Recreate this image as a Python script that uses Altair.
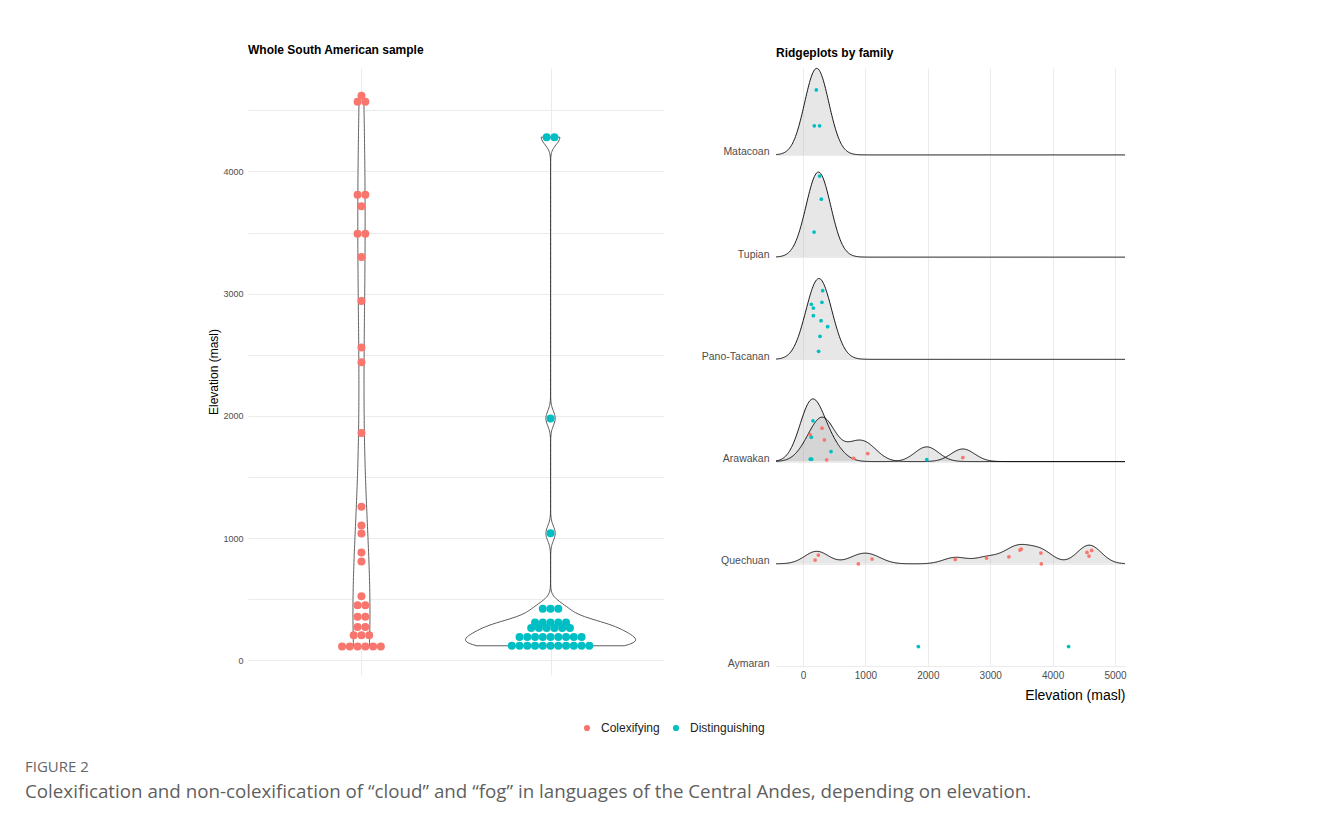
import numpy as np
import pandas as pd
import altair as alt

# ---------------- data ----------------
GROUPS = ["Colexifying", "Distinguishing"]
COLORS = ["#F8766D", "#00BFC4"]

# Whole South American sample (elevation of each dot, masl)
colex_elev = [4620, 4570, 4570, 3810, 3810, 3715, 3490, 3490, 3300, 2940, 2560, 2440,
              1860, 1258, 1104, 1039, 884, 810, 526, 452, 452, 357, 357, 273, 273,
              207, 207, 207, 115, 115, 115, 115, 115, 115]
disting_elev = [4280, 4280, 1980, 1040, 423, 423, 423,
                311, 311, 311, 311, 311,
                265, 265, 265, 265, 265, 265,
                191, 191, 191, 191, 191, 191, 191, 191, 191,
                120, 120, 120, 120, 120, 120, 120, 120, 120, 120, 120]

# Ridgeplots by family (bottom -> top)
FAMILIES = ["Aymaran", "Quechuan", "Arawakan", "Pano-Tacanan", "Tupian", "Matacoan"]

matacoan_elev = [213, 181, 266]
matacoan_jit = [0.636, 0.284, 0.284]
tupian_elev = [266, 294, 177]
tupian_jit = [0.793, 0.567, 0.245]
pano_elev = [315, 133, 303, 166, 166, 289, 395, 273, 250]
pano_jit = [0.671, 0.538, 0.558, 0.502, 0.427, 0.378, 0.319, 0.225, 0.078]
arawakan_dist_elev = [160, 133, 449, 117, 138, 1983]
arawakan_dist_jit = [0.398, 0.238, 0.098, 0.023, 0.023, 0.020]
arawakan_colex_elev = [305, 112, 342, 379, 812, 1037, 2561]
arawakan_colex_jit = [0.326, 0.264, 0.212, 0.017, 0.032, 0.078, 0.039]
quechuan_elev = [193, 245, 887, 1107, 2439, 2941, 3299, 3476, 3498, 3813, 3819, 4551, 4583, 4626]
quechuan_jit = [0.036, 0.085, 0.000, 0.046, 0.042, 0.056, 0.068, 0.134, 0.144, 0.105, 0.000, 0.111, 0.075, 0.130]
aymaran_elev = [1848, 4256]
aymaran_jit = [0.19, 0.19]

CAPTION_LABEL = "FIGURE 2"
CAPTION = ("Colexification and non-colexification of \u201ccloud\u201d and \u201cfog\u201d in languages "
           "of the Central Andes, depending on elevation.")

# ---------------- tables ----------------
left_df = pd.DataFrame({
    "group": ["Colexifying"] * len(colex_elev) + ["Distinguishing"] * len(disting_elev),
    "elev": colex_elev + disting_elev,
})
left_df["cat"] = left_df["group"].map({"Colexifying": 1, "Distinguishing": 2})

rows = []
def add(fam, grp, elevs, jits):
    for e, j in zip(elevs, jits):
        rows.append({"family": fam, "fi": FAMILIES.index(fam), "group": grp, "elev": e, "jit": j})

add("Matacoan", "Distinguishing", matacoan_elev, matacoan_jit)
add("Tupian", "Distinguishing", tupian_elev, tupian_jit)
add("Pano-Tacanan", "Distinguishing", pano_elev, pano_jit)
add("Arawakan", "Distinguishing", arawakan_dist_elev, arawakan_dist_jit)
add("Arawakan", "Colexifying", arawakan_colex_elev, arawakan_colex_jit)
add("Quechuan", "Colexifying", quechuan_elev, quechuan_jit)
add("Aymaran", "Distinguishing", aymaran_elev, aymaran_jit)
ridge_df = pd.DataFrame(rows)

# ---------------- styling ----------------
FONT = "Liberation Sans"
GRID = "#EBEBEB"
AXIS_TXT = "#4D4D4D"
BW_COLEX, BW_DIST, BW_RIDGE = 690, 60, 190
RIDGE_K = 410  # ridge height per unit density (in row units)

# violin width normalisation (ggplot scale="area": widest violin = 0.9 of a category)
d = np.array(disting_elev, float)
g = np.linspace(d.min(), d.max(), 3000)
dens = np.exp(-0.5 * ((g[:, None] - d[None, :]) / BW_DIST) ** 2).sum(1) / (len(d) * BW_DIST * np.sqrt(2 * np.pi))
S = 0.45 / dens.max()

legend = alt.Legend(orient="none", legendX=556, legendY=654, direction="horizontal", title=None,
                    symbolType="circle", symbolSize=38, labelFontSize=12, labelFont=FONT,
                    labelColor="#222222", labelOffset=8, columnPadding=10, symbolStrokeWidth=0)
color = alt.Color("group:N", scale=alt.Scale(domain=GROUPS, range=COLORS), legend=legend)

# ---------------- left panel ----------------
lx = alt.Scale(domain=[0.4, 2.6], nice=False, zero=False)
ly = alt.Scale(domain=[-119, 4846], nice=False, zero=False)
lx_axis = alt.Axis(values=[1, 2], labels=False, ticks=False, domain=False, title=None,
                   grid=True, gridColor=GRID, gridWidth=1)
ly_axis = alt.Axis(values=list(range(0, 5000, 500)), format="d",
                   labelExpr="datum.value % 1000 == 0 ? datum.label : ''",
                   ticks=False, domain=False, grid=True, gridColor=GRID, gridWidth=1,
                   labelFontSize=9, labelColor=AXIS_TXT, labelPadding=5,
                   title="Elevation (masl)", titleFontSize=12, titleFontWeight="normal",
                   titleColor="#000000", titlePadding=6, minExtent=22, maxExtent=22)

def violin(grp, cat, bw, lo, hi):
    return alt.Chart(left_df).transform_filter(alt.datum.group == grp).transform_density(
        "elev", as_=["elev", "density"], bandwidth=bw, extent=[lo, hi], steps=400
    ).transform_calculate(
        xl=f"{cat} - datum.density * {S}", xr=f"{cat} + datum.density * {S}"
    ).mark_area(orient="horizontal", fill="white", stroke="#333333", strokeWidth=0.8).encode(
        y=alt.Y("elev:Q", scale=ly, axis=ly_axis),
        x=alt.X("xl:Q", scale=lx, axis=lx_axis),
        x2="xr:Q",
    )

v1 = violin("Colexifying", 1, BW_COLEX, min(colex_elev), max(colex_elev))
v2 = violin("Distinguishing", 2, BW_DIST, min(disting_elev), max(disting_elev))

dots = alt.Chart(left_df).transform_window(
    rank="row_number()", groupby=["group", "elev"]
).transform_joinaggregate(
    n="count()", groupby=["group", "elev"]
).transform_calculate(
    xd="datum.cat + (datum.rank - (datum.n + 1) / 2) * 0.041"
).mark_circle(size=64, opacity=1).encode(
    x=alt.X("xd:Q", scale=lx, axis=lx_axis),
    y=alt.Y("elev:Q", scale=ly, axis=ly_axis),
    color=color,
)

left = alt.layer(v1, v2, dots).properties(
    width=416, height=607,
    title=alt.TitleParams("Whole South American sample", anchor="start", frame="group", fontSize=12,
                          fontWeight="bold", font=FONT, color="#000000", offset=11),
)

# ---------------- right panel ----------------
rx = alt.Scale(domain=[-433, 5160], nice=False, zero=False)
ry = alt.Scale(domain=[0, 5.85], nice=False, zero=False)
rx_axis = alt.Axis(values=[0, 1000, 2000, 3000, 4000, 5000], format="d", ticks=False, domain=False,
                   grid=True, gridColor=GRID, gridWidth=1, labelFontSize=10, labelColor=AXIS_TXT,
                   labelPadding=4, title="Elevation (masl)", titleFontSize=14,
                   titleFontWeight="normal", titleColor="#000000", titleAnchor="end", titlePadding=8)
fam_expr = "[" + ",".join(f"'{f}'" for f in FAMILIES) + "][datum.value]"
ry_axis = alt.Axis(values=list(range(len(FAMILIES))), labelExpr=fam_expr, ticks=False, domain=False,
                   grid=True, gridColor=GRID, gridWidth=1, labelFontSize=10.5, labelColor=AXIS_TXT,
                   labelBaseline="alphabetic", labelPadding=7, title=None)

ridges = alt.Chart(ridge_df).transform_filter(alt.datum.family != "Aymaran").transform_density(
    "elev", as_=["elev", "density"], groupby=["fi", "group"], bandwidth=BW_RIDGE,
    extent=[-433, 5160], steps=500
).transform_calculate(
    top=f"datum.fi + datum.density * {RIDGE_K}"
).mark_area(color="#A0A0A0", fillOpacity=0.25,
            line={"color": "#000000", "strokeWidth": 0.9, "opacity": 1}).encode(
    x=alt.X("elev:Q", scale=rx, axis=rx_axis),
    y=alt.Y("top:Q", scale=ry, axis=ry_axis),
    y2="fi:Q",
    detail=["fi:N", "group:N"],
)

rpts = alt.Chart(ridge_df).transform_calculate(
    yp="datum.fi + datum.jit"
).mark_circle(size=14, opacity=1).encode(
    x=alt.X("elev:Q", scale=rx, axis=rx_axis),
    y=alt.Y("yp:Q", scale=ry, axis=ry_axis),
    color=color,
)

right = alt.layer(ridges, rpts).properties(
    width=349, height=598,
    title=alt.TitleParams("Ridgeplots by family", anchor="start", frame="group", fontSize=12,
                          fontWeight="bold", font=FONT, color="#000000", offset=7),
)

# invisible spacer so the caption can start near the left edge
spacer = alt.Chart(pd.DataFrame({"v": [0]})).mark_point(opacity=0).encode(
    x=alt.X("v:Q", axis=None), y=alt.Y("v:Q", axis=None)
).properties(width=145, height=600, view=alt.ViewBackground(fill="white", stroke=None))

chart = alt.hconcat(spacer, left, right, spacing=37).properties(
    padding={"left": 17, "top": 36, "right": 10, "bottom": 10},
    title=alt.TitleParams(CAPTION_LABEL, subtitle=CAPTION, orient="bottom", anchor="start",
                          font="Open Sans", fontSize=15, fontWeight="normal", color="#666666",
                          subtitleFont="Open Sans", subtitleFontSize=18.75, subtitleColor="#5F5F5F",
                          subtitlePadding=8, offset=26),
).configure(
    font=FONT, background="white", view=alt.ViewConfig(stroke=None)
)

chart.save("out.html", embed_options={"renderer": "svg", "actions": False})
